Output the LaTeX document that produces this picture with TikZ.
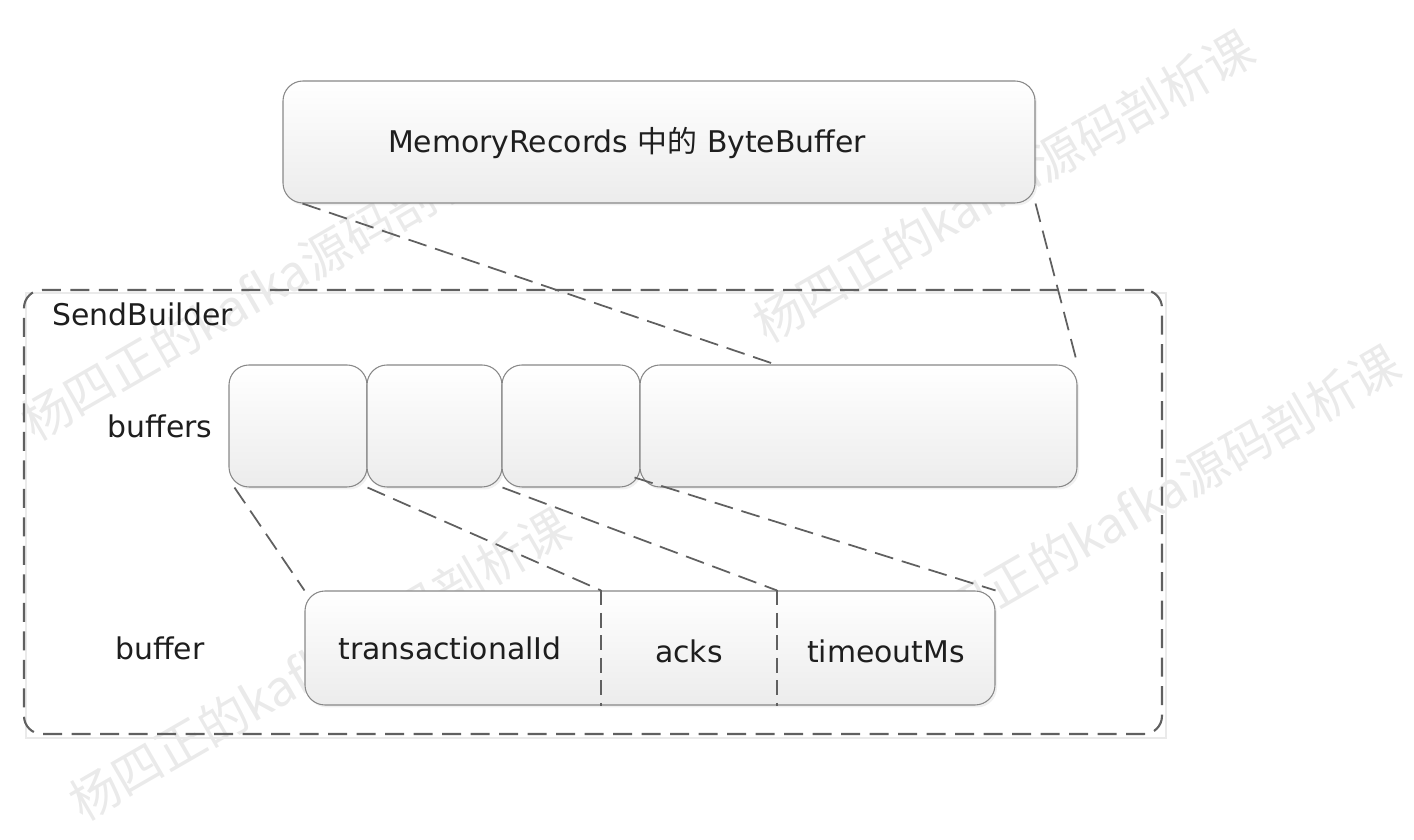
\documentclass[tikz,border=0pt]{standalone}
\usepackage{fontspec}
\setmainfont{DejaVu Sans}
\newfontfamily\cjk{Noto Sans CJK SC}
\usepackage{tikz}
\usetikzlibrary{%
  calc,%
  shadows%
}

\definecolor{linegray}{RGB}{96,96,96}
\definecolor{boxline}{RGB}{136,136,136}
\definecolor{boxbottom}{RGB}{236,236,236}
\definecolor{wmgray}{RGB}{234,234,234}
\definecolor{txtgray}{RGB}{30,30,30}

\tikzset{
  cellbox/.style={draw=boxline, line width=0.6pt, rounded corners=0.4cm,
    top color=white, bottom color=boxbottom, inner sep=0pt,
    drop shadow={shadow xshift=0.04cm, shadow yshift=-0.05cm, opacity=0.12}},
  lbl/.style={font=\fontsize{17}{20}\selectfont, text=txtgray, inner sep=0pt},
  link/.style={draw=linegray, line width=1pt, dash pattern=on 0.38cm off 0.18cm},
  divider/.style={draw=linegray, line width=0.9pt, dash pattern=on 0.3cm off 0.15cm},
  wmark/.style={font=\fontsize{28}{32}\selectfont\cjk, text=wmgray, rotate=30, inner sep=0pt}
}

\begin{document}
\begin{tikzpicture}
\useasboundingbox (0,0) rectangle (28.28,16.8);

% watermark
\foreach \x/\y [count=\i] in {5.43/11.12, 20.07/13.08, 22.99/6.78, 6.39/3.52}
  \node[wmark] (wm\i) at (\x,\y) {杨四正的kafka源码剖析课};

% top buffer
\node[cellbox, minimum width=15.04cm, minimum height=2.44cm] (mem) at (13.18,13.96) {};
\node[lbl, anchor=base] (memtxt) at (12.54,13.74) {MemoryRecords {\cjk 中的} ByteBuffer};

% SendBuilder frame
\draw[wmgray, line width=0.6pt] (0.52,2.04) rectangle (23.32,10.94);
\node[draw=linegray, line width=1.2pt, dash pattern=on 0.38cm off 0.19cm,
  rounded corners=0.36cm, minimum width=22.76cm, minimum height=8.88cm,
  inner sep=0pt] (sb) at (11.86,6.56) {};
\node[lbl, anchor=base west] (sbtxt) at (1.04,10.28) {SendBuilder};

% buffers
\node[lbl, anchor=base] (bufstxt) at (3.2,8.04) {buffers};
\node[cellbox, minimum width=2.76cm, minimum height=2.44cm] (c1) at (5.96,8.28) {};
\node[cellbox, minimum width=2.70cm, minimum height=2.44cm] (c2) at (8.69,8.28) {};
\node[cellbox, minimum width=2.76cm, minimum height=2.44cm] (c3) at (11.42,8.28) {};
\node[cellbox, minimum width=8.74cm, minimum height=2.44cm] (c4) at (17.17,8.28) {};

% buffer
\node[lbl, anchor=base] (buftxt) at (3.2,3.6) {buffer};
\node[cellbox, minimum width=13.8cm, minimum height=2.28cm] (buf) at (13.0,3.84) {};
\coordinate (d1) at (12.02,3.84);
\coordinate (d2) at (15.54,3.84);
\draw[divider] (d1 |- buf.north) -- (d1 |- buf.south);
\draw[divider] (d2 |- buf.north) -- (d2 |- buf.south);
\node[lbl, anchor=base] (tid) at (9.0,3.6) {transactionalId};
\node[lbl, anchor=base] (acks) at (13.78,3.54) {acks};
\node[lbl, anchor=base] (tmo) at (17.72,3.54) {timeoutMs};

% dashed links
\draw[link] ($(mem.south west)+(0.4,0)$) -- ($(c4.north west)+(2.72,0)$);
\draw[link] (mem.south east) -- (c4.north east);
\draw[link] ($(c1.south west)+(0.12,0)$) -- (buf.north west);
\draw[link] (c1.south east) -- (d1 |- buf.north);
\draw[link] (c2.south east) -- (d2 |- buf.north);
\draw[link] ($(c3.south east)+(-0.12,0.2)$) -- (buf.north east);
\end{tikzpicture}
\end{document}
